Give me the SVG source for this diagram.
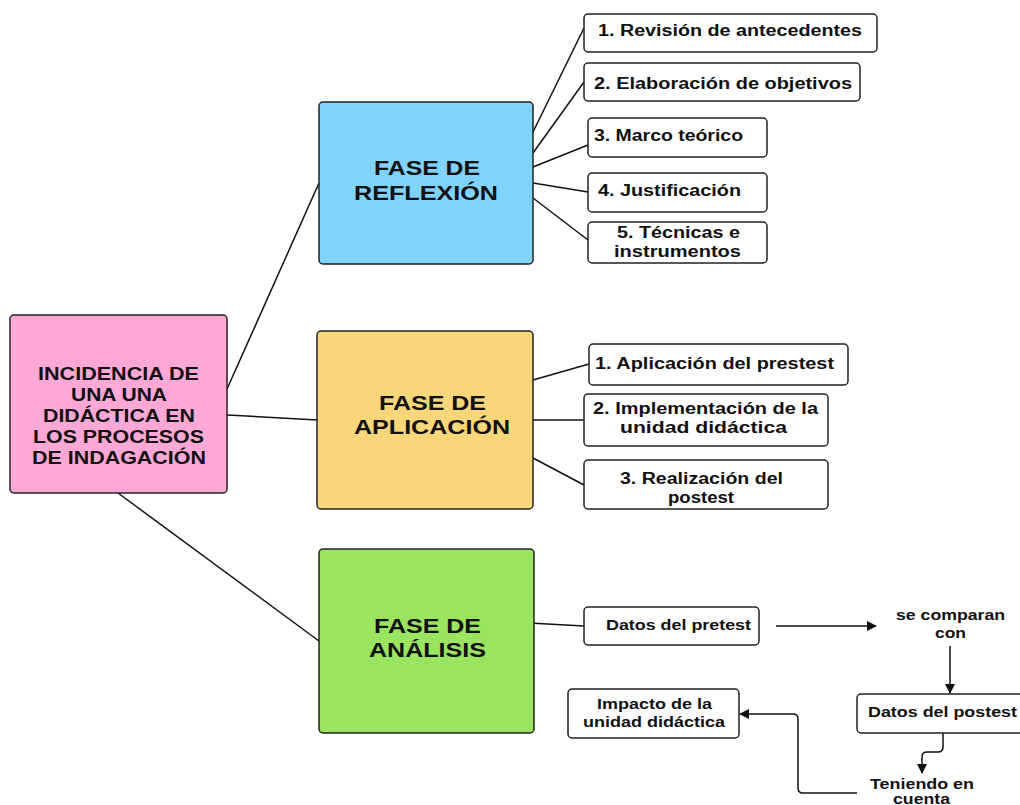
<svg xmlns="http://www.w3.org/2000/svg" width="1020" height="805" viewBox="0 0 1020 805">
<style>
.box{stroke:#222;stroke-width:1.5}
.w{fill:#fff}
.t{font-family:"Liberation Sans",Arial,sans-serif;font-weight:bold;fill:#111}
.s{font-size:16px}
.m{font-size:15px}
.big{font-size:21px}
.root{font-size:18px}
.ln{stroke:#111;stroke-width:1.5;fill:none}
</style>
<defs>
<marker id="ah" markerWidth="10" markerHeight="10" refX="9" refY="5" orient="auto" markerUnits="userSpaceOnUse">
<path d="M0,0 L10,5 L0,10 Z" fill="#111"/>
</marker>
</defs>
<rect width="1020" height="805" fill="#fff"/>
<g id="connectors">
<line class="ln" x1="227" y1="389" x2="319" y2="183"/>
<line class="ln" x1="227" y1="415" x2="317" y2="420"/>
<line class="ln" x1="118" y1="493" x2="319" y2="641"/>
<line class="ln" x1="533" y1="132" x2="584" y2="28"/>
<line class="ln" x1="533" y1="153" x2="584" y2="82"/>
<line class="ln" x1="533" y1="167" x2="588" y2="145"/>
<line class="ln" x1="533" y1="183" x2="588" y2="192"/>
<line class="ln" x1="533" y1="198" x2="588" y2="240"/>
<line class="ln" x1="533" y1="380" x2="589" y2="364"/>
<line class="ln" x1="533" y1="420" x2="584" y2="420"/>
<line class="ln" x1="533" y1="458" x2="584" y2="485"/>
<line class="ln" x1="529" y1="623" x2="584" y2="626"/>
<line class="ln" x1="776" y1="626" x2="876" y2="626" marker-end="url(#ah)"/>
<line class="ln" x1="950" y1="646" x2="950" y2="693" marker-end="url(#ah)"/>
<path class="ln" d="M943,733 L943,747 Q943,752 938,752 L927,752 Q922,752 922,757 L922,773" marker-end="url(#ah)"/>
<path class="ln" d="M857,793 L803,793 Q798,793 798,788 L798,719 Q798,714 793,714 L740,714" marker-end="url(#ah)"/>
</g>
<g id="root">
<rect class="box" x="10" y="315" width="217" height="178" rx="4" fill="#FFA8D5"/>
<text class="t root" lengthAdjust="spacingAndGlyphs">
<tspan x="38" y="380" textLength="161" lengthAdjust="spacingAndGlyphs">INCIDENCIA DE</tspan>
</text>
<text class="t root" x="71" y="401" textLength="96" lengthAdjust="spacingAndGlyphs">UNA UNA</text>
<text class="t root" x="43" y="422" textLength="152" lengthAdjust="spacingAndGlyphs">DIDÁCTICA EN</text>
<text class="t root" x="33" y="443" textLength="171" lengthAdjust="spacingAndGlyphs">LOS PROCESOS</text>
<text class="t root" x="32" y="464" textLength="174" lengthAdjust="spacingAndGlyphs">DE INDAGACIÓN</text>
</g>
<g id="reflexion">
<rect class="box" x="319" y="102" width="214" height="162" rx="4" fill="#7FD3FE"/>
<text class="t big" x="374" y="175" textLength="106" lengthAdjust="spacingAndGlyphs">FASE DE</text>
<text class="t big" x="354" y="200" textLength="144" lengthAdjust="spacingAndGlyphs">REFLEXIÓN</text>
</g>
<g id="aplicacion">
<rect class="box" x="317" y="331" width="216" height="178" rx="4" fill="#FAD67A"/>
<text class="t big" x="379" y="410" textLength="107" lengthAdjust="spacingAndGlyphs">FASE DE</text>
<text class="t big" x="354" y="434" textLength="156" lengthAdjust="spacingAndGlyphs">APLICACIÓN</text>
</g>
<g id="analisis">
<rect class="box" x="319" y="549" width="215" height="184" rx="4" fill="#9AE460"/>
<text class="t big" x="374" y="633" textLength="107" lengthAdjust="spacingAndGlyphs">FASE DE</text>
<text class="t big" x="369" y="657" textLength="117" lengthAdjust="spacingAndGlyphs">ANÁLISIS</text>
</g>
<g id="r1">
<rect class="box w" x="584" y="14" width="293" height="38" rx="4"/>
<text class="t s" x="598" y="36" textLength="264" lengthAdjust="spacingAndGlyphs">1. Revisión de antecedentes</text>
</g>
<g id="r2">
<rect class="box w" x="584" y="63" width="276" height="38" rx="4"/>
<text class="t s" x="594" y="89" textLength="258" lengthAdjust="spacingAndGlyphs">2. Elaboración de objetivos</text>
</g>
<g id="r3">
<rect class="box w" x="588" y="118" width="179" height="39" rx="4"/>
<text class="t s" x="594" y="141" textLength="149" lengthAdjust="spacingAndGlyphs">3. Marco teórico</text>
</g>
<g id="r4">
<rect class="box w" x="588" y="173" width="179" height="39" rx="4"/>
<text class="t s" x="598" y="196" textLength="143" lengthAdjust="spacingAndGlyphs">4. Justificación</text>
</g>
<g id="r5">
<rect class="box w" x="588" y="222" width="179" height="41" rx="4"/>
<text class="t s" x="617" y="238" textLength="123" lengthAdjust="spacingAndGlyphs">5. Técnicas e</text>
<text class="t s" x="614" y="257" textLength="127" lengthAdjust="spacingAndGlyphs">instrumentos</text>
</g>
<g id="a1">
<rect class="box w" x="589" y="344" width="259" height="41" rx="4"/>
<text class="t s" x="595" y="369" textLength="239" lengthAdjust="spacingAndGlyphs">1. Aplicación del prestest</text>
</g>
<g id="a2">
<rect class="box w" x="584" y="394" width="244" height="52" rx="4"/>
<text class="t s" x="593" y="414" textLength="225" lengthAdjust="spacingAndGlyphs">2. Implementación de la</text>
<text class="t s" x="620" y="433" textLength="167" lengthAdjust="spacingAndGlyphs">unidad didáctica</text>
</g>
<g id="a3">
<rect class="box w" x="584" y="460" width="244" height="49" rx="4"/>
<text class="t s" x="620" y="484" textLength="163" lengthAdjust="spacingAndGlyphs">3. Realización del</text>
<text class="t s" x="668" y="503" textLength="66" lengthAdjust="spacingAndGlyphs">postest</text>
</g>
<g id="pretest">
<rect class="box w" x="584" y="607" width="175" height="38" rx="4"/>
<text class="t m" x="606" y="630" textLength="145" lengthAdjust="spacingAndGlyphs">Datos del pretest</text>
</g>
<g id="comparan">
<text class="t m" x="896" y="620" textLength="109" lengthAdjust="spacingAndGlyphs">se comparan</text>
<text class="t m" x="935" y="638" textLength="31" lengthAdjust="spacingAndGlyphs">con</text>
</g>
<g id="postest">
<rect class="box w" x="857" y="694" width="170" height="39" rx="4"/>
<text class="t m" x="868" y="717" textLength="149" lengthAdjust="spacingAndGlyphs">Datos del postest</text>
</g>
<g id="teniendo">
<text class="t m" x="870" y="789" textLength="104" lengthAdjust="spacingAndGlyphs">Teniendo en</text>
<text class="t m" x="893" y="804" textLength="57" lengthAdjust="spacingAndGlyphs">cuenta</text>
</g>
<g id="impacto">
<rect class="box w" x="568" y="689" width="171" height="49" rx="4"/>
<text class="t m" x="597" y="709" textLength="115" lengthAdjust="spacingAndGlyphs">Impacto de la</text>
<text class="t m" x="583" y="727" textLength="142" lengthAdjust="spacingAndGlyphs">unidad didáctica</text>
</g>
</svg>
